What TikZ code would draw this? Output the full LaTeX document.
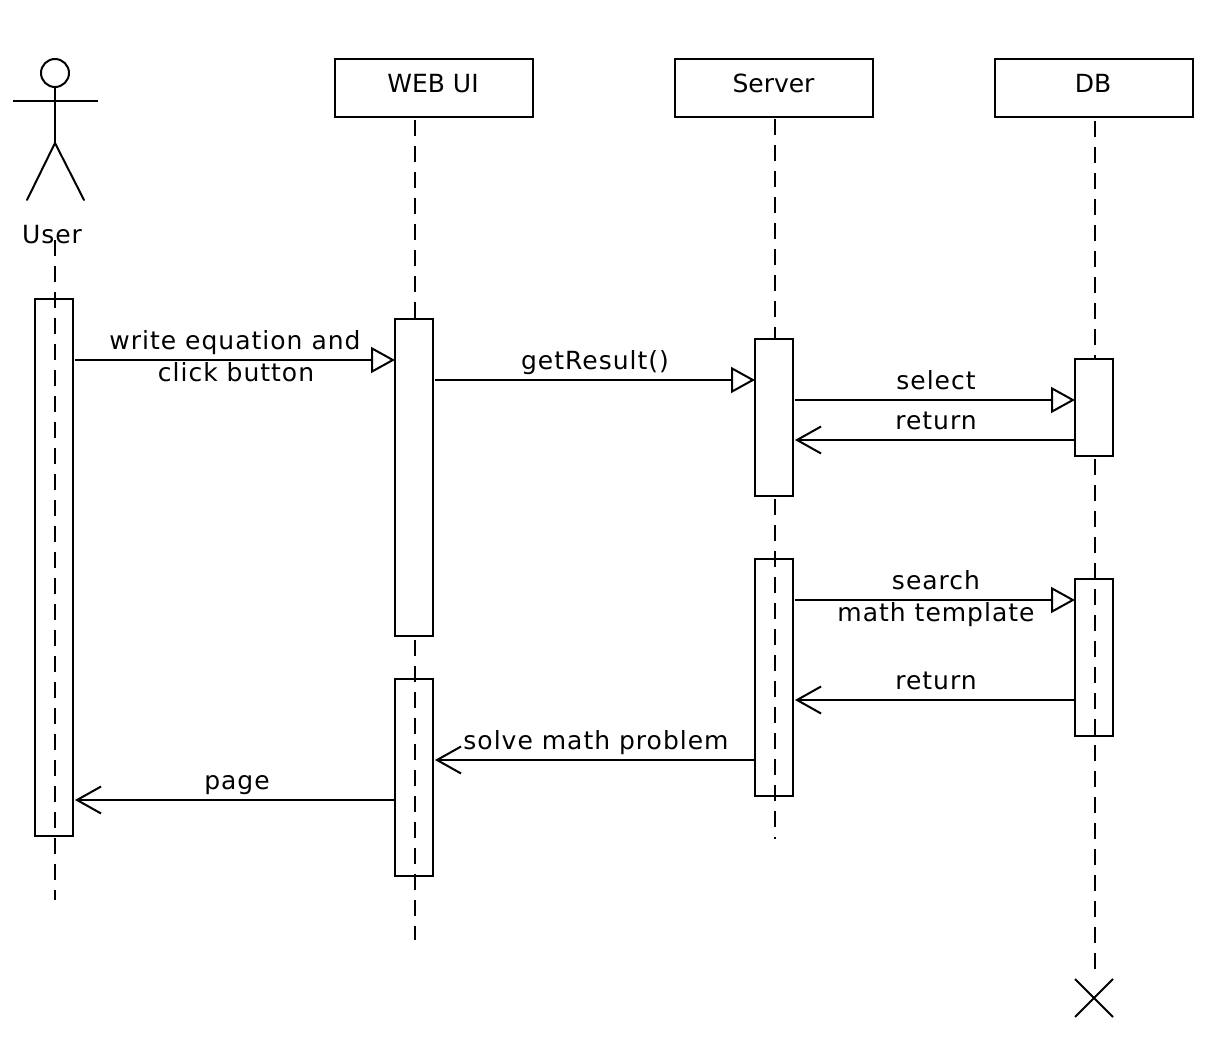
\documentclass[tikz,border=0pt]{standalone}
\usepackage{fontspec}
\setmainfont{DejaVu Sans}
\newfontfamily\spacedfont[LetterSpace=4]{DejaVu Sans}
\usetikzlibrary{arrows.meta}
\tikzset{
  x=1pt,y=-1pt,
  objbox/.style={draw,fill=white,rectangle,minimum width=198pt,minimum height=58pt,inner sep=0pt,outer sep=0pt},
  actbox/.style={draw,rectangle,minimum width=38pt,inner sep=0pt,outer sep=0pt},
  lifeline/.style={dash pattern=on 16pt off 10pt},
  callmsg/.style={-{Triangle[open,fill=white,length=24pt,width=26pt]},shorten <=2pt},
  retmsg/.style={-{Straight Barb[length=24pt,width=27pt]},shorten >=2pt},
  headlbl/.style={anchor=base,inner sep=0pt,font=\fontsize{25}{30}\selectfont},
  lbl/.style={anchor=base,inner sep=0pt,font=\spacedfont\fontsize{25}{30}\selectfont},
  figure/.style={line cap=round},
}
\begin{document}
\begin{tikzpicture}[line width=2pt]
\useasboundingbox (0,0) rectangle (1210,1052);
% object heads
\node[objbox] (web) at (434,88) {};
\node[objbox] (srv) at (774,88) {};
\node[objbox] (db)  at (1094,88) {};
\node[headlbl] (webt) at (433,92) {WEB UI};
\node[headlbl] (srvt) at (773.5,92) {Server};
\node[headlbl] (dbt)  at (1093,92) {DB};
% actor
\node[draw,circle,minimum size=28pt,inner sep=0pt,outer sep=0pt] (head) at (55,73) {};
\coordinate (armL) at (13,101);
\coordinate (armR) at (98,101);
\coordinate (hip) at (55,143);
\coordinate (legL) at (27,200);
\coordinate (legR) at (84,200);
\draw (armL) -- (armR);
\draw (head) -- (hip);
\draw[figure] (legL) -- (hip) -- (legR);
\node[lbl] (usert) at (52,243) {User};
% lifelines
\coordinate (u0) at (55,240);
\coordinate (u1) at (55,900);
\coordinate (w0) at (415,120);
\coordinate (w1) at (415,320);
\coordinate (w2) at (415,640);
\coordinate (w3) at (415,940);
\coordinate (s0) at (775,119);
\coordinate (s1) at (775,340);
\coordinate (s2) at (775,499);
\coordinate (s3) at (775,839);
\coordinate (d0) at (1095,121);
\coordinate (d1) at (1095,360);
\coordinate (d2) at (1095,459);
\coordinate (d3) at (1095,970);
\draw[lifeline] (u0) -- (u1);
\draw[lifeline] (w0) -- (w1);
\draw[lifeline] (w2) -- (w3);
\draw[lifeline] (s0) -- (s1);
\draw[lifeline] (s2) -- (s3);
\draw[lifeline] (d0) -- (d1);
\draw[lifeline] (d2) -- (d3);
% activations
\node[actbox,minimum height=537pt] (au) at (54,567.5) {};
\node[actbox,fill=white,minimum height=317pt] (aw1) at (414,477.5) {};
\node[actbox,minimum height=197pt] (aw2) at (414,777.5) {};
\node[actbox,fill=white,minimum height=157pt] (as1) at (774,417.5) {};
\node[actbox,minimum height=237pt] (as2) at (774,677.5) {};
\node[actbox,fill=white,minimum height=97pt] (ad1) at (1094,407.5) {};
\node[actbox,minimum height=157pt] (ad2) at (1094,657.5) {};
% message levels
\coordinate (m1) at (0,360);
\coordinate (m2) at (0,380);
\coordinate (m3) at (0,400);
\coordinate (m4) at (0,440);
\coordinate (m5) at (0,600);
\coordinate (m6) at (0,700);
\coordinate (m7) at (0,760);
\coordinate (m8) at (0,800);
\draw[callmsg] (au.east |- m1) -- (aw1.west |- m1);
\draw[callmsg] (aw1.east |- m2) -- (as1.west |- m2);
\draw[callmsg] (as1.east |- m3) -- (ad1.west |- m3);
\draw[retmsg] (ad1.west |- m4) -- (as1.east |- m4);
\draw[callmsg] (as2.east |- m5) -- (ad2.west |- m5);
\draw[retmsg] (ad2.west |- m6) -- (as2.east |- m6);
\draw[retmsg] (as2.west |- m7) -- (aw2.east |- m7);
\draw[retmsg] (aw2.west |- m8) -- (au.east |- m8);
% labels
\node[lbl] (l1a) at (235,349) {write equation and};
\node[lbl] (l1b) at (236,381) {click button};
\node[lbl] (l2) at (595,369) {getResult()};
\node[lbl] (l3) at (936,389) {select};
\node[lbl] (l4) at (936,429) {return};
\node[lbl] (l5a) at (936,589) {search};
\node[lbl] (l5b) at (936,621) {math template};
\node[lbl] (l6) at (936,689) {return};
\node[lbl] (l7) at (596,749) {solve math problem};
\node[lbl] (l8) at (237,789) {page};
% destruction mark
\coordinate (xa) at (1075,979);
\coordinate (xb) at (1113,1017);
\coordinate (xc) at (1113,979);
\coordinate (xd) at (1075,1017);
\draw (xa) -- (xb);
\draw (xc) -- (xd);
\end{tikzpicture}
\end{document}
